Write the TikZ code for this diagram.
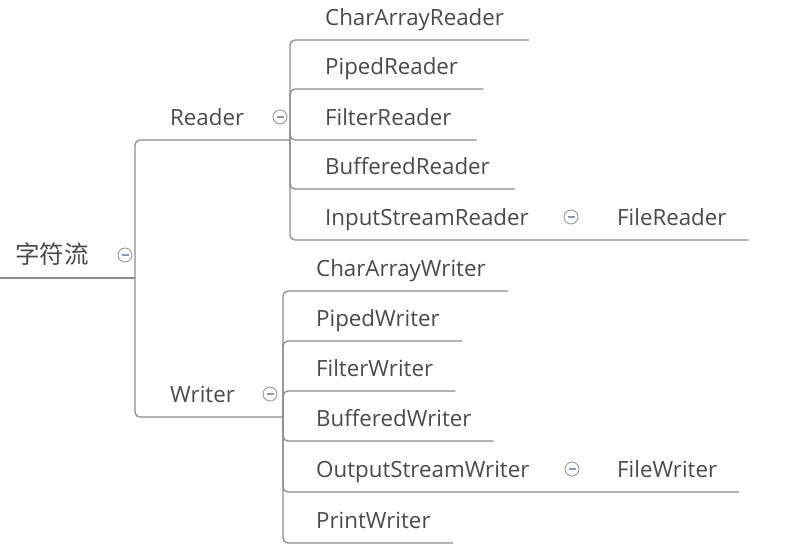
\documentclass[tikz,border=0pt]{standalone}
\usepackage{fontspec}
\setmainfont{Open Sans}
\newfontfamily\cjk{Noto Sans CJK SC}
\usetikzlibrary{positioning}
\definecolor{inkgray}{HTML}{4A4A4A}
\definecolor{linegray}{HTML}{8C8C8C}
\definecolor{minusblue}{HTML}{8A97C4}

\tikzset{
  topic/.style={anchor=base west,inner sep=0pt,text=inkgray,font=\fontsize{22.3}{25}\selectfont},
  branch/.style={draw=linegray,line width=1.3pt,rounded corners=5pt},
  fold/.style={circle,draw=gray!80,line width=0.9pt,fill=white,minimum size=14pt,inner sep=0pt,
    path picture={\draw[minusblue,line width=1.2pt]
      ([xshift=-3.5pt]path picture bounding box.center) -- ([xshift=3.5pt]path picture bounding box.center);}}
}

\begin{document}
\begin{tikzpicture}[x=1pt,y=-1pt]
  \useasboundingbox (0,0) rectangle (805,550);

  % root topic
  \node[topic,font=\cjk\fontsize{24.5}{27}\selectfont] (root) at (15,263) {字符流};
  \node[fold] (root-f) at (125,255) {};
  \coordinate (root-s) at (0,278);
  \coordinate (root-j) at (135,278);
  \draw[branch] (root-s) -- (root-j);

  % Reader
  \node[topic] (rd) at (170,125) {Reader};
  \node[fold] (rd-f) at (280,117) {};
  \coordinate (rd-j) at (290,140);
  \draw[branch] (root-j) |- (rd-j);

  \node[topic] (car) at (325,25) {CharArrayReader};
  \node[topic] (pr) at (325,74) {PipedReader};
  \node[topic] (fr) at (325,125) {FilterReader};
  \node[topic] (br) at (325,174) {BufferedReader};
  \node[topic] (isr) at (325,225) {InputStreamReader};
  \node[fold] (isr-f) at (571,217) {};
  \node[topic] (flr) at (617,225) {FileReader};

  \draw[branch] (rd-j) |- ([xshift=25pt,yshift=-15pt]car.base east);
  \draw[branch] (rd-j) |- ([xshift=25pt,yshift=-15pt]pr.base east);
  \draw[branch] (rd-j) |- ([xshift=25pt,yshift=-15pt]fr.base east);
  \draw[branch] (rd-j) |- ([xshift=25pt,yshift=-15pt]br.base east);
  \draw[branch] (rd-j) |- ([xshift=22pt,yshift=-15pt]flr.base east);

  % Writer
  \node[topic] (wr) at (170,402) {Writer};
  \node[fold] (wr-f) at (270,394) {};
  \coordinate (wr-j) at (283,417);
  \draw[branch] (root-j) |- (wr-j);

  \node[topic] (caw) at (316,276) {CharArrayWriter};
  \node[topic] (pw) at (316,326) {PipedWriter};
  \node[topic] (fw) at (316,376) {FilterWriter};
  \node[topic] (bw) at (316,426) {BufferedWriter};
  \node[topic] (osw) at (316,477) {OutputStreamWriter};
  \node[fold] (osw-f) at (572,469) {};
  \node[topic] (flw) at (617,477) {FileWriter};
  \node[topic] (prw) at (316,528) {PrintWriter};

  \draw[branch] (wr-j) |- ([xshift=22pt,yshift=-15pt]caw.base east);
  \draw[branch] (wr-j) |- ([xshift=22pt,yshift=-15pt]pw.base east);
  \draw[branch] (wr-j) |- ([xshift=22pt,yshift=-15pt]fw.base east);
  \draw[branch] (wr-j) |- ([xshift=22pt,yshift=-15pt]bw.base east);
  \draw[branch] (wr-j) |- ([xshift=22pt,yshift=-15pt]flw.base east);
  \draw[branch] (wr-j) |- ([xshift=22pt,yshift=-15pt]prw.base east);
\end{tikzpicture}
\end{document}
